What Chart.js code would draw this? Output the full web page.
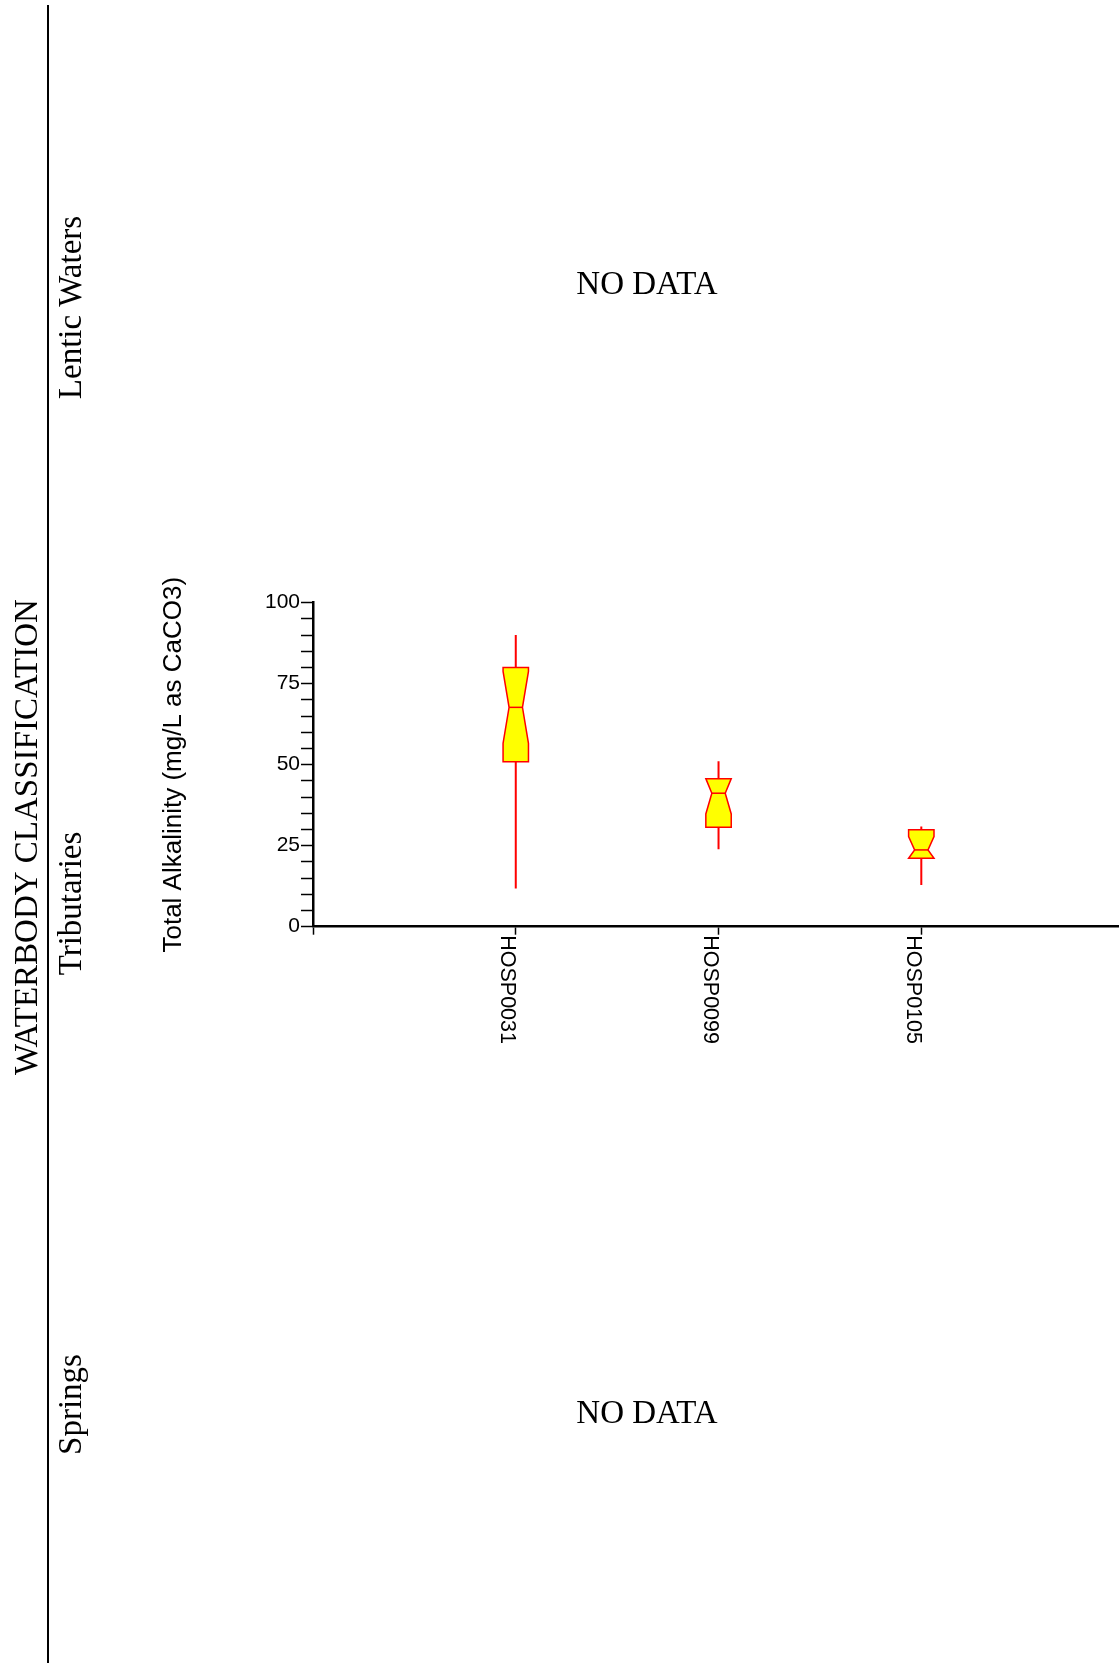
<!DOCTYPE html>
<html>
<head>
<meta charset="utf-8">
<title>Total Alkalinity by Waterbody Classification</title>
<script src="https://cdn.jsdelivr.net/npm/chart.js@4.4.1/dist/chart.umd.min.js"></script>
<style>
  html, body { margin: 0; padding: 0; background: #ffffff; }
  #wrap { width: 1119px; height: 1663px; position: relative; }
  canvas { display: block; }
</style>
</head>
<body>
<div id="wrap"><canvas id="chart" width="1119" height="1663"></canvas></div>
<script>
// Station summaries (mg/L as CaCO3), tributary group
const sites = ['HOSP0031', 'HOSP0099', 'HOSP0105'];
const whiskerLow = [11.8, 23.9, 12.9];
const q1 = [50.9, 30.7, 21.1];
const median = [67.7, 41.2, 23.7];
const q3 = [80.0, 45.7, 29.9];
const whiskerHigh = [90.0, 51.1, 30.9];
const notchLow = [56.6, 34.8, 19.6];
const notchHigh = [78.8, 47.6, 27.8];

// Axis labelling
const yLabelTicks = [0, 25, 50, 75, 100];
const yMinorStep = 5;
const yTitle = 'Total Alkalinity (mg/L as CaCO3)';

// Panel labels
const groups = ['Lentic Waters', 'Tributaries', 'Springs'];
const sideTitle = 'WATERBODY CLASSIFICATION';
const emptyText = 'NO DATA';

const SANS = '"Liberation Sans", Arial, sans-serif';
const SERIF = '"Liberation Serif", "Times New Roman", serif';
const SERIF_FONT = '33px ' + SERIF;

function rotatedText(ctx, text, x, y, angle, font, align, baseline) {
  ctx.save();
  ctx.translate(x, y);
  ctx.rotate(angle);
  ctx.font = font;
  ctx.fillStyle = '#000000';
  ctx.textAlign = align;
  ctx.textBaseline = baseline;
  ctx.fillText(text, 0, 0);
  ctx.restore();
}

// Notched box-and-whisker marks drawn on the chart's own scales
const notchedBoxes = {
  id: 'notchedBoxes',
  afterDatasetsDraw(chart) {
    const { ctx, scales: { x, y } } = chart;
    const half = 12.7;
    const notchHalf = 6.7;
    ctx.save();
    sites.forEach((site, i) => {
      const cx = x.getPixelForValue(i + 1);
      const pWl = y.getPixelForValue(whiskerLow[i]);
      const pQ1 = y.getPixelForValue(q1[i]);
      const pMed = y.getPixelForValue(median[i]);
      const pQ3 = y.getPixelForValue(q3[i]);
      const pWh = y.getPixelForValue(whiskerHigh[i]);
      const pNlo = y.getPixelForValue(Math.max(notchLow[i], q1[i]));
      const pNhi = y.getPixelForValue(Math.min(notchHigh[i], q3[i]));

      ctx.strokeStyle = '#ff0000';
      ctx.lineWidth = 2;
      ctx.beginPath();
      ctx.moveTo(cx, pWl); ctx.lineTo(cx, pQ1);
      ctx.moveTo(cx, pQ3); ctx.lineTo(cx, pWh);
      ctx.stroke();

      ctx.beginPath();
      ctx.moveTo(cx - half, pQ3);
      ctx.lineTo(cx + half, pQ3);
      ctx.lineTo(cx + half, pNhi);
      ctx.lineTo(cx + notchHalf, pMed);
      ctx.lineTo(cx + half, pNlo);
      ctx.lineTo(cx + half, pQ1);
      ctx.lineTo(cx - half, pQ1);
      ctx.lineTo(cx - half, pNlo);
      ctx.lineTo(cx - notchHalf, pMed);
      ctx.lineTo(cx - half, pNhi);
      ctx.closePath();
      ctx.fillStyle = '#ffff00';
      ctx.fill();
      ctx.lineWidth = 1.5;
      ctx.lineJoin = 'miter';
      ctx.stroke();

      ctx.beginPath();
      ctx.moveTo(cx - notchHalf, pMed);
      ctx.lineTo(cx + notchHalf, pMed);
      ctx.stroke();
    });
    ctx.restore();
  }
};

// Station labels under the x axis, group labels and the divider
const panelText = {
  id: 'panelText',
  afterDraw(chart) {
    const { ctx, scales: { x } } = chart;
    ctx.save();

    // station names, reading downward from each tick
    sites.forEach((site, i) => {
      const px = x.getPixelForValue(i + 1);
      rotatedText(ctx, site, px - 14.8, x.top + 8.5, Math.PI / 2,
        '21.5px ' + SANS, 'left', 'alphabetic');
    });

    // classification divider
    ctx.strokeStyle = '#000000';
    ctx.lineWidth = 2;
    ctx.beginPath();
    ctx.moveTo(48, 5);
    ctx.lineTo(48, chart.height);
    ctx.stroke();

    rotatedText(ctx, sideTitle, 36.5, 837, -Math.PI / 2, SERIF_FONT, 'center', 'alphabetic');
    rotatedText(ctx, groups[0], 80.5, 307.5, -Math.PI / 2, SERIF_FONT, 'center', 'alphabetic');
    rotatedText(ctx, groups[1], 80.5, 903.5, -Math.PI / 2, SERIF_FONT, 'center', 'alphabetic');
    rotatedText(ctx, groups[2], 80.5, 1404.5, -Math.PI / 2, SERIF_FONT, 'center', 'alphabetic');

    ctx.font = SERIF_FONT;
    ctx.fillStyle = '#000000';
    ctx.textAlign = 'center';
    ctx.textBaseline = 'alphabetic';
    ctx.fillText(emptyText, 647, 293.5);
    ctx.fillText(emptyText, 647, 1422.5);

    ctx.restore();
  }
};

new Chart(document.getElementById('chart'), {
  type: 'scatter',
  data: {
    datasets: [{
      label: 'Median',
      data: sites.map((s, i) => ({ x: i + 1, y: median[i] })),
      pointRadius: 0,
      showLine: false
    }]
  },
  options: {
    responsive: false,
    animation: false,
    devicePixelRatio: 1,
    layout: { padding: { top: 602.7, left: 0, right: 0, bottom: 0 } },
    plugins: {
      legend: { display: false },
      tooltip: { enabled: false }
    },
    scales: {
      x: {
        type: 'linear',
        position: 'bottom',
        min: 0,
        max: 3.975,
        afterBuildTicks(scale) {
          scale.ticks = [0, ...sites.map((s, i) => i + 1)].map(v => ({ value: v }));
        },
        afterFit(scale) { scale.height = 1663 - 926.7; },
        ticks: { display: false },
        grid: {
          display: true,
          drawOnChartArea: false,
          drawTicks: true,
          tickLength: 8,
          tickColor: '#000000',
          tickWidth: 1.5
        },
        border: { display: true, color: '#000000', width: 2.5 }
      },
      y: {
        type: 'linear',
        position: 'left',
        min: 0,
        max: 100,
        afterBuildTicks(scale) {
          const t = [];
          for (let v = scale.min; v <= scale.max; v += yMinorStep) t.push({ value: v });
          scale.ticks = t;
        },
        afterFit(scale) { scale.width = 313; },
        ticks: {
          autoSkip: false,
          padding: 1,
          color: '#000000',
          font: { family: SANS, size: 21 },
          callback: (v) => (yLabelTicks.includes(v) ? String(v) : '')
        },
        grid: {
          display: true,
          drawOnChartArea: false,
          drawTicks: true,
          tickLength: 12,
          tickColor: '#000000',
          tickWidth: 1.5
        },
        border: { display: true, color: '#000000', width: 2.5 },
        title: {
          display: true,
          text: yTitle,
          color: '#000000',
          font: { family: SANS, size: 26 },
          padding: { top: 158.4, bottom: 0 }
        }
      }
    }
  },
  plugins: [notchedBoxes, panelText]
});
</script>
</body>
</html>
